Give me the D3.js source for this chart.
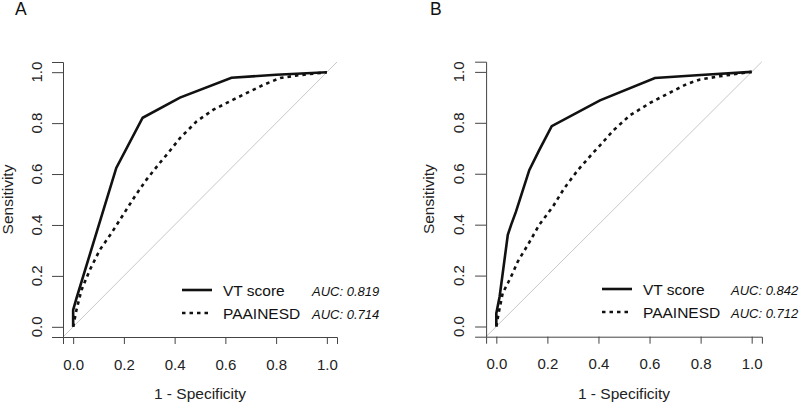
<!DOCTYPE html>
<html>
<head>
<meta charset="utf-8">
<script src="https://cdn.jsdelivr.net/npm/d3@7"></script>
<style>
  body { margin: 0; background: #fff; }
  svg { display: block; font-family: Arial, "Liberation Sans", sans-serif; }
</style>
</head>
<body>
<svg width="800" height="403"></svg>
<script>
	// ROC curves (x = 1 - specificity, y = sensitivity)
	var vtA_x = [0, 0, 0.013, 0.17, 0.274, 0.421, 0.624, 0.8, 1];
	var vtA_y = [0, 0.066, 0.112, 0.624, 0.821, 0.9, 0.978, 0.99, 1];
	var paA_x = [0, 0.013, 0.033, 0.066, 0.105, 0.151, 0.197, 0.243, 0.289, 0.341, 0.374, 0.421, 0.487, 0.553, 0.631, 0.749, 0.816, 0.882, 1];
	var paA_y = [0, 0.066, 0.145, 0.224, 0.302, 0.368, 0.44, 0.512, 0.578, 0.643, 0.682, 0.741, 0.807, 0.853, 0.892, 0.95, 0.977, 0.987, 1];

	var vtB_x = [0, 0, 0.013, 0.045, 0.058, 0.077, 0.129, 0.168, 0.217, 0.406, 0.621, 0.8, 1];
	var vtB_y = [0, 0.052, 0.118, 0.36, 0.399, 0.451, 0.614, 0.693, 0.787, 0.888, 0.976, 0.988, 1];
	var paB_x = [0, 0.009, 0.025, 0.045, 0.064, 0.084, 0.123, 0.168, 0.221, 0.266, 0.319, 0.377, 0.406, 0.458, 0.523, 0.602, 0.667, 0.745, 0.798, 0.876, 1];
	var paB_y = [0, 0.052, 0.131, 0.17, 0.209, 0.255, 0.32, 0.399, 0.47, 0.543, 0.614, 0.68, 0.711, 0.77, 0.829, 0.878, 0.912, 0.952, 0.97, 0.983, 1];

	var ticks = [0, 0.2, 0.4, 0.6, 0.8, 1.0];
	var seriesNames = ["VT score", "PAAINESD"];
	var aucA = ["AUC: 0.819", "AUC: 0.714"];
	var aucB = ["AUC: 0.842", "AUC: 0.712"];

	var svg = d3.select("svg");

	function drawPanel(p) {
		var x = d3.scaleLinear().domain([-0.04, 1.04]).range([p.left, p.right]);
		var y = d3.scaleLinear().domain([-0.04, 1.04]).range([p.bottom, p.top]);
		var g = svg.append("g");

		// panel letter
		g.append("text").attr("x", p.letterX).attr("y", 15).style("font-size", "17.5px").style("fill", "#111").text(p.letter);

		// diagonal reference
		g.append("line")
		  .attr("x1", x(-0.04)).attr("y1", y(-0.04))
		  .attr("x2", x(1.04)).attr("y2", y(1.04))
		  .style("stroke", "#c8c8c8").style("stroke-width", 1);

		// x axis
		var xa = g.append("g").attr("transform", "translate(0," + p.bottom + ")")
		  .call(d3.axisBottom(x).tickValues(ticks).tickFormat(d3.format(".1f")).tickSizeOuter(0).tickSize(7).tickPadding(15));
		xa.selectAll("text").style("font-size", "15px").style("fill", "#222").style("font-family", "Arial, 'Liberation Sans', sans-serif");
		xa.selectAll("line,path").style("stroke", "#444");

		// y axis, labels rotated by hand
		var ya = g.append("g").attr("transform", "translate(" + p.left + ",0)")
		  .call(d3.axisLeft(y).tickValues(ticks).tickFormat("").tickSizeOuter(0).tickSize(11));
		ya.selectAll("line,path").style("stroke", "#444");
		g.selectAll(".ylab").data(ticks).enter().append("text")
		  .attr("transform", function(d) { return "translate(" + p.ylabX + "," + y(d) + ") rotate(-90)"; })
		  .attr("text-anchor", "middle")
		  .style("font-size", "15px").style("fill", "#222")
		  .text(d3.format(".1f"));

		// axis titles
		g.append("text").attr("x", (x(0) + x(1)) / 2).attr("y", 399).attr("text-anchor", "middle")
		  .style("font-size", "15.5px").style("fill", "#222").text("1 - Specificity");
		g.append("text")
		  .attr("transform", "translate(" + p.titleX + "," + (y(0) + y(1)) / 2 + ") rotate(-90)")
		  .attr("text-anchor", "middle").style("font-size", "15.5px").style("fill", "#222").text("Sensitivity");

		// curves
		var line = d3.line().x(function(d) { return x(d[0]); }).y(function(d) { return y(d[1]); });
		g.append("path").datum(d3.zip(p.paX, p.paY)).attr("d", line)
		  .style("fill", "none").style("stroke", "#111").style("stroke-width", 2.6).style("stroke-dasharray", "3.5,4");
		g.append("path").datum(d3.zip(p.vtX, p.vtY)).attr("d", line)
		  .style("fill", "none").style("stroke", "#111").style("stroke-width", 2.6);

		// legend
		var rows = [0, 1];
		rows.forEach(function(i) {
			var ly = p.legY + i * 23;
			g.append("line").attr("x1", p.legX).attr("x2", p.legX + 30).attr("y1", ly).attr("y2", ly)
			  .style("stroke", "#111").style("stroke-width", 2.6).style("stroke-dasharray", i == 1 ? "3.5,4" : null);
			g.append("text").attr("x", p.legX + 41).attr("y", ly + 6).style("font-size", "15.5px").style("fill", "#111").text(seriesNames[i]);
			g.append("text").attr("x", p.aucX).attr("y", ly + 6).style("font-size", "13px").style("font-style", "italic")
			  .style("fill", "#111").text(p.auc[i]);
		});
	}

	drawPanel({letter: "A", letterX: 15, left: 63, right: 337, top: 62, bottom: 337,
		ylabX: 41.5, titleX: 13, legX: 182, legY: 290, aucX: 312,
		vtX: vtA_x, vtY: vtA_y, paX: paA_x, paY: paA_y, auc: aucA});
	drawPanel({letter: "B", letterX: 430, left: 486.1, right: 761.9, top: 61.7, bottom: 336.7,
		ylabX: 464, titleX: 434, legX: 602, legY: 289, aucX: 731,
		vtX: vtB_x, vtY: vtB_y, paX: paB_x, paY: paB_y, auc: aucB});
</script>
</body>
</html>
